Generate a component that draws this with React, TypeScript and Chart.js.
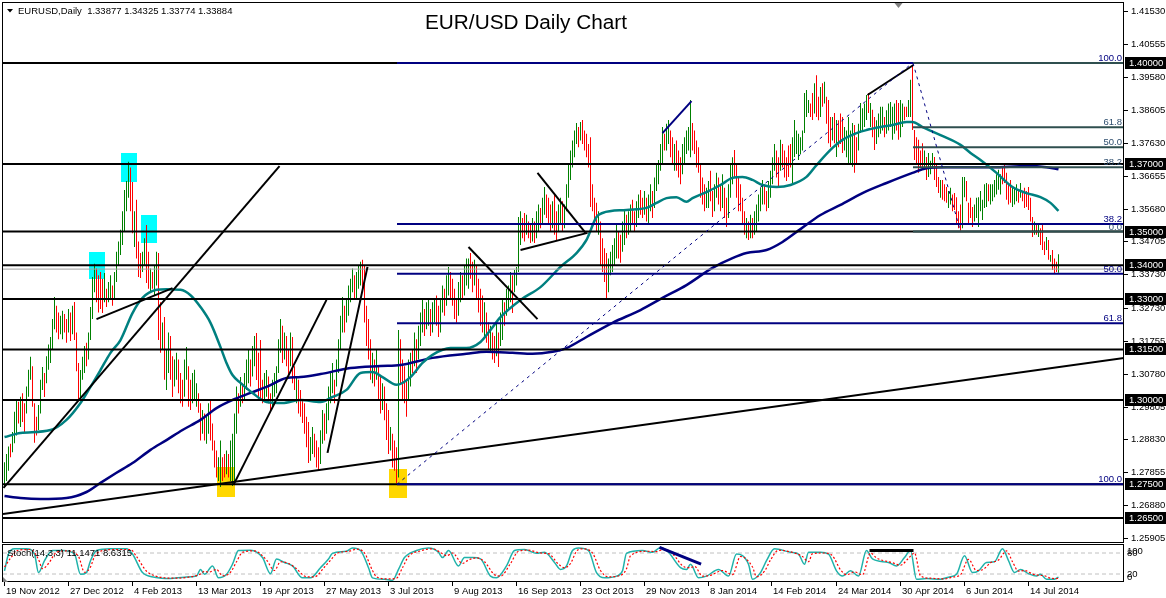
import React, { useEffect, useRef } from "react";
import { Chart, registerables } from "chart.js";

Chart.register(...registerables);

// ---------- DATA (prices in pips, 1 pip = 0.0001) ----------
const BAR_HIGH = [
  12815,12840,12862,12870,12905,12965,13000,12995,
  13010,13020,12990,13040,13090,13128,13100,12990,
  12950,12985,13060,13098,13080,13130,13165,13187,
  13240,13306,13280,13260,13250,13265,13255,13240,
  13270,13260,13280,13291,13200,13110,13089,13128,
  13160,13170,13200,13276,13365,13404,13390,13370,
  13380,13360,13377,13330,13350,13370,13340,13380,
  13440,13470,13505,13560,13623,13650,13707,13690,
  13647,13560,13594,13470,13436,13440,13480,13519,
  13440,13390,13380,13400,13440,13436,13290,13230,
  13246,13150,13200,13190,13130,13120,13140,13120,
  13080,13060,13120,13157,13100,13060,13080,13090,
  13050,13020,12990,12970,12960,12950,12990,13000,
  12930,12880,12850,12830,12880,12830,12840,12850,
  12840,12880,12900,12960,13040,13020,13068,13050,
  13080,13120,13150,13120,13160,13190,13199,13140,
  13178,13060,13080,13089,13070,13020,13060,13080,
  13100,13180,13240,13220,13200,13190,13150,13200,
  13187,13100,13068,13060,13030,13000,12990,12950,
  12935,12890,12920,12900,12880,12860,12910,12970,
  12960,12990,13040,13080,13110,13060,13120,13180,
  13250,13306,13280,13300,13340,13360,13390,13370,
  13380,13400,13410,13416,13400,13280,13240,13180,
  13140,13120,13148,13100,13070,13050,13040,12990,
  12970,12920,12900,12880,12860,13208,13180,13120,
  13100,13060,13120,13140,13150,13200,13180,13220,
  13260,13297,13270,13290,13297,13270,13290,13300,
  13310,13280,13300,13340,13330,13370,13395,13380,
  13360,13330,13300,13350,13380,13370,13400,13420,
  13420,13436,13410,13416,13400,13360,13330,13310,
  13290,13260,13230,13220,13200,13190,13230,13200,
  13260,13297,13290,13330,13340,13380,13370,13386,
  13395,13543,13560,13540,13555,13550,13530,13520,
  13540,13530,13560,13580,13570,13600,13632,13610,
  13600,13580,13590,13614,13560,13580,13600,13590,
  13580,13640,13700,13740,13770,13800,13822,13810,
  13825,13831,13800,13790,13760,13780,13640,13600,
  13585,13560,13530,13480,13450,13436,13420,13440,
  13460,13480,13520,13500,13490,13530,13564,13550,
  13560,13580,13594,13560,13590,13610,13623,13600,
  13620,13600,13610,13640,13620,13660,13700,13712,
  13760,13810,13790,13820,13831,13800,13780,13760,
  13770,13740,13720,13760,13780,13800,13810,13890,
  13822,13800,13770,13750,13700,13660,13640,13630,
  13650,13680,13620,13640,13674,13660,13640,13670,
  13630,13600,13640,13700,13720,13742,13700,13660,
  13640,13600,13560,13540,13530,13550,13540,13560,
  13580,13610,13630,13653,13640,13620,13650,13680,
  13720,13760,13740,13720,13772,13760,13740,13720,
  13755,13760,13780,13831,13800,13790,13780,13800,
  13911,13920,13890,13880,13911,13940,13964,13900,
  13929,13940,13944,13900,13890,13840,13840,13852,
  13831,13830,13850,13840,13810,13800,13840,13800,
  13822,13816,13780,13820,13881,13866,13880,13905,
  13911,13881,13861,13840,13830,13850,13870,13870,
  13840,13860,13880,13884,13870,13880,13890,13881,
  13890,13880,13870,13870,13890,13950,13994,13801,
  13780,13772,13740,13762,13740,13721,13733,13710,
  13733,13721,13703,13662,13653,13653,13640,13632,
  13620,13630,13610,13614,13602,13560,13580,13662,
  13662,13650,13585,13600,13573,13580,13600,13602,
  13620,13594,13640,13644,13640,13640,13640,13653,
  13670,13683,13670,13690,13703,13674,13640,13653,
  13632,13630,13640,13620,13644,13620,13630,13620,
  13632,13600,13543,13530,13520,13525,13510,13525,
  13470,13484,13475,13430,13445,13420,13410,13432.5,
];

const BAR_LOW = [
  12742,12760,12790,12830,12845,12872,12895,12930,
  12920,12935,12905,12960,13010,13060,12980,12873,
  12895,12911,12960,13030,13009,13050,13090,13110,
  13150,13210,13200,13180,13195,13180,13200,13170,
  13200,13175,13195,13178,13085,13000,13009,13060,
  13080,13100,13120,13178,13240,13320,13290,13260,
  13270,13258,13290,13276,13290,13300,13280,13300,
  13350,13400,13430,13460,13500,13560,13600,13560,
  13495,13454,13420,13365,13362,13380,13400,13347,
  13330,13320,13330,13310,13340,13178,13140,13150,
  13060,13030,13080,13060,13009,13040,13060,13020,
  12990,12980,13010,13060,12980,12970,12990,13000,
  12980,12962,12880,12900,12880,12870,12900,12880,
  12850,12800,12770,12760,12742,12760,12770,12780,
  12770,12760,12745,12760,12900,12960,12980,12990,
  13000,13030,13050,13040,13070,13100,13059,13000,
  13000,12990,13000,13010,12990,12970,12980,13010,
  13020,13080,13140,13110,13120,13100,13070,13100,
  13050,13030,12990,12960,12950,12932,12900,12860,
  12813,12820,12840,12830,12800,12792,12810,12870,
  12880,12900,12940,12990,13020,12990,13040,13080,
  13150,13200,13200,13230,13250,13290,13320,13300,
  13300,13330,13340,13330,13230,13160,13120,13060,
  13050,13040,13060,13000,12960,12970,12940,12881,
  12840,12850,12800,12790,12754,12770,13050,13000,
  12990,12950,13000,13040,13080,13100,13080,13120,
  13160,13200,13190,13210,13220,13190,13200,13230,
  13220,13187,13200,13260,13250,13280,13310,13300,
  13280,13240,13229,13250,13290,13300,13310,13340,
  13330,13360,13320,13340,13300,13260,13220,13200,
  13190,13170,13150,13140,13120,13110,13130,13098,
  13160,13178,13220,13250,13270,13290,13258,13320,
  13340,13380,13460,13480,13470,13490,13480,13466,
  13470,13466,13480,13500,13510,13520,13550,13540,
  13520,13500,13510,13490,13475,13500,13520,13500,
  13510,13560,13600,13653,13690,13720,13760,13750,
  13770,13760,13740,13720,13690,13573,13560,13520,
  13500,13490,13400,13380,13350,13297,13320,13370,
  13380,13400,13420,13420,13407,13440,13460,13480,
  13490,13500,13520,13500,13513,13540,13550,13540,
  13550,13530,13525,13560,13540,13570,13620,13640,
  13680,13700,13740,13740,13760,13720,13700,13680,
  13680,13660,13640,13670,13700,13730,13740,13720,
  13740,13730,13690,13674,13600,13580,13560,13570,
  13570,13590,13543,13560,13600,13580,13560,13570,
  13540,13513,13540,13600,13640,13660,13600,13560,
  13560,13520,13490,13480,13475,13480,13480,13490,
  13500,13530,13560,13580,13580,13560,13570,13600,
  13640,13680,13660,13632,13680,13690,13660,13650,
  13662,13690,13644,13721,13730,13712,13730,13740,
  13792,13840,13852,13840,13831,13850,13840,13830,
  13840,13870,13880,13820,13762,13750,13770,13762,
  13721,13750,13760,13733,13740,13720,13703,13700,
  13692,13674,13700,13740,13792,13800,13810,13831,
  13852,13810,13780,13742,13760,13780,13790,13800,
  13780,13790,13800,13810,13772,13790,13800,13772,
  13780,13810,13830,13840,13840,13840,13801,13712,
  13700,13674,13690,13683,13690,13653,13662,13670,
  13691,13653,13632,13614,13600,13594,13590,13585,
  13570,13580,13560,13564,13525,13510,13503,13510,
  13602,13590,13525,13540,13513,13530,13540,13513,
  13560,13534,13570,13573,13590,13580,13590,13602,
  13610,13624,13610,13640,13644,13594,13580,13585,
  13573,13580,13590,13585,13600,13590,13570,13573,
  13564,13530,13484,13490,13490,13484,13460,13445,
  13430,13445,13416,13410,13386,13377,13380,13377.4,
];

// u = bullish bar, d = bearish bar
const BAR_DIRECTION = [
  "uuuduuud","udduuudd","duuuduuu","uudduudd","ududdduu","uduuuudd","dduduudu","uuuuuuud",
  "duddduud","duduuddu","duudduud","dduudduu","udduduud","ddduuddu","duuuudud","uuuduudd",
  "dduudduu","uuududdu","dduddddd","duuddduu","duuuuduu","uuduuuud","uuuddddd","ududdudd",
  "dudddudd","dduududu","uuduuduu","dduuduud","ddduuduu","uddudddd","udduddud","uuduuudu",
  "uuuddudd","uduuduud","ddudduud","uuuuuuud","uddddddd","dudddduu","uuudduud","uudduudd",
  "uduuduuu","uuduuddu","ddduuuuu","dddddddu","udduuddu","dduuuddd","dddududu","uuuudduu",
  "uudduddd","dduuuuuu","uuuddudd","ududddud","uddduuuu","udduuuuu","dudduuuu","duuuuudd",
  "uudduudd","dddduduu","uddduddd","uudddddu","udddduuu","uuuuduuu","uuuddddd","uuududdd",
  "dddududd","dududddu",
].join("");

// moving averages: [bar index, pips]
const MA_TEAL = [
  [0,12890],[8,12902],[23,12911],[31,12941],[38,12991],[43,13039],[48,13089],[53,13140],[58,13178],
  [64,13258],[69,13303],[76,13327],[81,13329],[88,13327],[93,13311],[98,13276],[103,13229],[108,13157],
  [111,13110],[114,13074],[118,13051],[124,13021],[131,12994],[139,12991],[148,13000],[158,12994],
  [164,13009],[171,13030],[178,13080],[184,13083],[189,13068],[196,13045],[203,13068],[209,13110],
  [214,13134],[223,13154],[231,13154],[238,13172],[243,13208],[248,13246],[258,13297],[268,13335],
  [278,13395],[286,13436],[291,13475],[296,13543],[299,13555],[311,13564],[321,13570],[326,13585],
  [331,13599],[336,13602],[341,13588],[344,13599],[351,13617],[358,13638],[364,13659],[369,13662],
  [374,13653],[379,13638],[386,13632],[393,13638],[401,13662],[406,13697],[414,13748],[419,13772],
  [426,13792],[431,13801],[438,13810],[444,13816],[451,13825],[454,13825],[459,13810],[468,13786],
  [478,13757],[483,13733],[488,13712],[496,13674],[504,13632],[511,13614],[518,13602],[523,13585],
  [527,13561],
];
const MA_NAVY = [
  [0,12715],[8,12709],[18,12706],[31,12709],[41,12727],[48,12754],[56,12784],[64,12813],[73,12852],
  [81,12881],[89,12911],[98,12941],[106,12976],[114,13000],[123,13021],[131,13039],[141,13065],
  [148,13068],[158,13077],[173,13095],[188,13101],[198,13104],[214,13125],[231,13137],[241,13143],
  [254,13140],[264,13137],[274,13143],[281,13154],[291,13187],[304,13229],[318,13267],[329,13303],
  [341,13341],[354,13392],[364,13421],[371,13436],[381,13445],[389,13469],[398,13507],[408,13549],
  [418,13579],[429,13614],[441,13644],[454,13674],[461,13688],[471,13691],[481,13691],[494,13691],
  [511,13694],[521,13691],[527,13685],
];

// stochastic (14,3,3): [bar index, value]
const STOCH_MAIN = [
  [0,29],[2,77],[5,92],[11,92],[15,77],[17,24],[20,58],[24,87],[29,87],[35,77],[38,19],[41,24],[43,58],
  [46,87],[53,92],[61,92],[64,77],[69,24],[75,11],[83,7],[90,11],[96,14],[98,33],[100,19],[104,43],
  [107,9],[111,19],[114,48],[117,87],[123,88],[129,67],[133,21],[136,63],[140,53],[144,43],[149,9],
  [153,9],[158,38],[162,63],[164,79],[171,85],[174,94],[178,87],[182,38],[184,9],[190,5],[194,2],
  [197,33],[200,67],[206,87],[212,94],[217,82],[219,67],[222,87],[227,43],[230,67],[234,67],[238,63],
  [243,14],[246,9],[251,43],[255,87],[260,90],[266,79],[270,82],[275,53],[278,33],[281,43],[284,87],
  [287,94],[292,87],[296,24],[300,9],[306,14],[309,29],[311,79],[319,87],[324,82],[328,96],[332,82],
  [338,38],[341,33],[343,48],[347,9],[351,14],[357,33],[362,14],[366,77],[372,48],[374,5],[378,24],
  [381,58],[385,92],[393,82],[397,77],[400,48],[402,82],[408,82],[412,77],[416,29],[419,14],[423,29],
  [427,14],[431,87],[434,63],[442,53],[446,43],[450,67],[453,87],[456,5],[461,7],[468,5],[472,11],
  [476,19],[480,72],[484,24],[487,29],[491,53],[495,55],[499,92],[502,58],[505,24],[508,33],[512,21],
  [516,14],[518,19],[521,5],[525,5],[527,11.1471],
];
const STOCH_SIGNAL = [
  [0,40],[3,65],[7,88],[13,90],[17,62],[19,35],[22,50],[26,82],[31,86],[37,70],[40,25],[43,40],[45,70],
  [48,85],[55,90],[63,90],[66,70],[71,28],[77,12],[85,8],[92,11],[98,20],[100,28],[102,25],[106,33],
  [109,15],[113,25],[116,55],[119,82],[125,86],[131,60],[135,30],[138,55],[142,50],[146,35],[151,12],
  [155,12],[160,40],[164,66],[166,78],[173,86],[176,91],[180,80],[184,30],[186,12],[192,6],[196,8],
  [199,38],[202,70],[208,86],[214,92],[219,78],[221,72],[224,80],[229,50],[232,60],[236,66],[240,55],
  [245,18],[248,14],[253,50],[257,85],[262,88],[268,80],[272,78],[277,48],[280,38],[283,50],[286,85],
  [289,92],[294,80],[298,30],[302,12],[308,16],[311,35],[313,72],[321,85],[326,84],[330,92],[334,78],
  [340,40],[343,38],[345,42],[349,14],[353,16],[359,30],[364,18],[368,70],[374,40],[376,12],[380,28],
  [383,60],[387,88],[395,80],[399,70],[402,55],[404,78],[410,80],[414,72],[418,32],[421,18],[425,26],
  [429,18],[433,80],[436,66],[444,52],[448,45],[452,65],[455,80],[458,15],[463,8],[470,6],[474,11],
  [478,18],[482,62],[486,30],[489,32],[493,52],[497,60],[501,86],[504,55],[507,28],[510,30],[514,20],
  [518,16],[520,15],[523,8],[526,7],[527,8.6315],
];
const STOCH_LEVELS = [80, 20];

// horizontal support / resistance levels (pips)
const H_LEVELS = [14000, 13700, 13500, 13400, 13300, 13150, 13000, 12750, 12650];
const BID_LEVEL = 13388.4;

// trend lines: [bar, pips] -> [bar, pips]
const TREND_BLACK = [
  [[-0.75,12662],[559.75,13125]],
  [[-0.5,12739],[137.5,13694]],
  [[46,13240],[84,13332]],
  [[114.5,12748],[161,13297]],
  [[161.5,12843],[181.5,13395]],
  [[232,13454],[266.5,13240]],
  [[258,13445],[291.5,13496]],
  [[266.5,13674],[290.5,13496]],
  [[431.5,13905],[454.5,13994]],
];
const TREND_NAVY = [[[329,13792],[343.5,13887]]];
const TREND_DASHED = [
  [[196.25,12750],[454,14000]],
  [[454.25,14000],[478,13500]],
];
const STOCH_LINES = [
  { pts: [[327.5,96],[348.3,48]], color: "#000080" },
  { pts: [[432.5,87],[454.5,87]], color: "#000000" },
];

// fibonacci retracements
const FIB1_START = 196.25;
const FIB1_LEVELS = [14000, 13522.5, 13375, 13227.5, 12750];
const FIB1_LABELS = ["", "38.2", "50.0", "61.8", "100.0"];
const FIB2_START = 454.25;
const FIB2_LEVELS = [14000, 13809, 13750, 13691, 13500];
const FIB2_LABELS = ["100.0", "61.8", "50.0", "38.2", "0.0"];

// highlight rectangles: [fromBar, toBar, topPips, bottomPips]
const BOXES_CYAN = [
  [42.25, 50.25, 13439, 13359],
  [58.25, 66.25, 13733, 13647],
  [68.25, 76.25, 13549, 13466],
];
const BOXES_GOLD = [
  [106.25, 115.25, 12801, 12712],
  [192.25, 201.25, 12795, 12709],
];

const PRICE_TICKS = ["1.41530","1.40555","1.39580","1.38605","1.37630","1.36655","1.35680","1.34705",
  "1.33730","1.32730","1.31755","1.30780","1.29805","1.28830","1.27855","1.26880","1.25905"];
const DATE_LABELS = ["19 Nov 2012","27 Dec 2012","4 Feb 2013","13 Mar 2013","19 Apr 2013","27 May 2013",
  "3 Jul 2013","9 Aug 2013","16 Sep 2013","23 Oct 2013","29 Nov 2013","8 Jan 2014","14 Feb 2014",
  "24 Mar 2014","30 Apr 2014","6 Jun 2014","14 Jul 2014"];
const DATE_BARS = [0,32,64,96,128,160,192,224,256,288,320,352,384,416,448,480,512];

const TITLE = "EUR/USD Daily Chart";
const HEADER = "EURUSD,Daily  1.33877 1.34325 1.33774 1.33884";
const STOCH_HEADER = "Stoch(14,3,3) 11.1471 8.6315";
const SHIFT_BAR = 447;

// ---------- layout ----------
const X_MIN = -0.75;
const X_MAX = 559.75;
const Y_MAX = 1.4178042;
const Y_MIN = 1.2459941;
const S_MAX = 1651.43;
const S_MIN = -2.857;
const FONT = '"Liberation Sans", Arial, sans-serif';

const px = (p: number) => p / 10000;

function lineDs(pts: number[][], color: string, width: number, order: number, extra: any = {}, price = true) {
  return {
    type: "line",
    data: pts.map(([x, y]) => ({ x, y: price ? px(y) : y })),
    borderColor: color,
    borderWidth: width,
    pointRadius: 0,
    fill: false,
    tension: 0,
    order,
    yAxisID: price ? "y" : "ys",
    ...extra,
  };
}

export default function App() {
  const ref = useRef<HTMLCanvasElement | null>(null);

  useEffect(() => {
    const canvas = ref.current;
    if (!canvas) return;

    const datasets: any[] = [];

    datasets.push({
      type: "bar",
      data: BAR_HIGH.map((h, i) => ({ x: i, y: [px(BAR_LOW[i]), px(h)] })),
      backgroundColor: BAR_HIGH.map((_, i) => (BAR_DIRECTION[i] === "u" ? "#008000" : "#ff0000")),
      borderWidth: 0,
      barThickness: 1,
      inflateAmount: 0,
      order: 20,
      yAxisID: "y",
    });

    datasets.push(lineDs(MA_TEAL, "#008080", 2.5, 9, { cubicInterpolationMode: "monotone" }));
    datasets.push(lineDs(MA_NAVY, "#000080", 2.5, 9, { cubicInterpolationMode: "monotone" }));

    datasets.push(lineDs([[X_MIN, BID_LEVEL], [X_MAX, BID_LEVEL]], "#a0a0a0", 1, 8));
    H_LEVELS.forEach((p) => datasets.push(lineDs([[X_MIN, p], [X_MAX, p]], "#000000", 2, 6)));

    TREND_BLACK.forEach((seg) => datasets.push(lineDs(seg, "#000000", 2, 5)));
    TREND_NAVY.forEach((seg) => datasets.push(lineDs(seg, "#000080", 2, 5)));

    FIB1_LEVELS.forEach((p) => datasets.push(lineDs([[FIB1_START, p], [X_MAX, p]], "#000080", 2, 4)));
    FIB2_LEVELS.forEach((p) => datasets.push(lineDs([[FIB2_START, p], [X_MAX, p]], "#2f4f4f", 2, 3)));

    TREND_DASHED.forEach((seg) => datasets.push(lineDs(seg, "#000080", 1, 2, { borderDash: [3, 4] })));

    // stochastic panel
    STOCH_LEVELS.forEach((v) =>
      datasets.push(lineDs([[X_MIN, v], [X_MAX, v]], "#c0c0c0", 1, 12, { borderDash: [4, 3] }, false))
    );
    datasets.push(lineDs(STOCH_MAIN, "#20b2aa", 1.5, 11, { cubicInterpolationMode: "monotone" }, false));
    datasets.push(lineDs(STOCH_SIGNAL, "#ff0000", 1.2, 10, { cubicInterpolationMode: "monotone", borderDash: [2, 2] }, false));
    STOCH_LINES.forEach((l) => datasets.push(lineDs(l.pts, l.color, 3, 1, {}, false)));

    const overlay = {
      id: "overlay",
      beforeDatasetsDraw(chart: any) {
        const { ctx } = chart;
        const xs = chart.scales.x;
        const ys = chart.scales.y;
        ctx.save();
        const drawBoxes = (list: number[][], color: string) => {
          ctx.fillStyle = color;
          list.forEach(([b0, b1, top, bot]) => {
            const x0 = xs.getPixelForValue(b0);
            const x1 = xs.getPixelForValue(b1);
            const y0 = ys.getPixelForValue(px(top));
            const y1 = ys.getPixelForValue(px(bot));
            ctx.fillRect(Math.round(x0), Math.round(y0), Math.round(x1 - x0), Math.round(y1 - y0));
          });
        };
        drawBoxes(BOXES_CYAN, "#00ffff");
        drawBoxes(BOXES_GOLD, "#ffd700");
        ctx.restore();
      },
      afterDraw(chart: any) {
        const { ctx } = chart;
        const xs = chart.scales.x;
        const ys = chart.scales.y;
        const ss = chart.scales.ys;
        ctx.save();

        // panel frames
        ctx.strokeStyle = "#000";
        ctx.lineWidth = 1;
        ctx.strokeRect(2.5, 2.5, 1121, 540);
        ctx.strokeRect(2.5, 544.5, 1121, 37);

        // price axis ticks + labels
        ctx.font = `9.5px ${FONT}`;
        ctx.textBaseline = "middle";
        ctx.textAlign = "left";
        ctx.fillStyle = "#000";
        PRICE_TICKS.forEach((t) => {
          const y = Math.round(ys.getPixelForValue(parseFloat(t))) + 0.5;
          ctx.beginPath();
          ctx.moveTo(1124, y);
          ctx.lineTo(1128, y);
          ctx.stroke();
          ctx.fillText(t, 1131, y);
        });

        // level price boxes
        H_LEVELS.forEach((p) => {
          const y = Math.round(ys.getPixelForValue(px(p)));
          ctx.fillStyle = "#000";
          ctx.fillRect(1125, y - 6, 41, 12);
          ctx.fillStyle = "#fff";
          ctx.fillText(px(p).toFixed(5), 1129, y + 0.5);
        });

        // fib labels
        ctx.textAlign = "right";
        ctx.textBaseline = "alphabetic";
        FIB1_LEVELS.forEach((p, i) => {
          if (!FIB1_LABELS[i]) return;
          const y = ys.getPixelForValue(px(p));
          ctx.fillStyle = "#000080";
          ctx.fillText(FIB1_LABELS[i], 1122, y - 2);
        });
        FIB2_LEVELS.forEach((p, i) => {
          const y = ys.getPixelForValue(px(p));
          ctx.fillStyle = i === 0 ? "#000080" : "#2f4f6f";
          ctx.fillText(FIB2_LABELS[i], 1122, y - 2);
        });

        // stochastic axis labels
        ctx.textAlign = "left";
        ctx.textBaseline = "middle";
        ctx.fillStyle = "#000";
        ctx.fillText("100", 1127, ss.getPixelForValue(100) + 5);
        ctx.fillText("80", 1127, ss.getPixelForValue(80));
        ctx.fillText("20", 1127, ss.getPixelForValue(20));
        ctx.fillText("0", 1127, ss.getPixelForValue(0) - 4);

        // date axis
        DATE_BARS.forEach((b, i) => {
          const x = Math.round(xs.getPixelForValue(b)) - 0.5;
          ctx.beginPath();
          ctx.moveTo(x, 582);
          ctx.lineTo(x, 586);
          ctx.stroke();
          ctx.fillText(DATE_LABELS[i], x + 1.5, 591);
        });

        // header line
        ctx.beginPath();
        ctx.moveTo(7, 9);
        ctx.lineTo(13, 9);
        ctx.lineTo(10, 12.5);
        ctx.closePath();
        ctx.fill();
        ctx.fillText(HEADER, 18, 11);

        // stochastic header
        ctx.fillText(STOCH_HEADER, 7, 553);

        // chart shift marker
        const sx = xs.getPixelForValue(SHIFT_BAR);
        ctx.fillStyle = "#808080";
        ctx.beginPath();
        ctx.moveTo(sx - 4, 3);
        ctx.lineTo(sx + 4, 3);
        ctx.lineTo(sx, 8);
        ctx.closePath();
        ctx.fill();
        ctx.beginPath();
        ctx.moveTo(3, 577);
        ctx.lineTo(3, 582);
        ctx.lineTo(8, 582);
        ctx.closePath();
        ctx.fill();

        // title
        ctx.fillStyle = "#000";
        ctx.font = `20px ${FONT}`;
        ctx.textBaseline = "alphabetic";
        const w = ctx.measureText(TITLE).width;
        ctx.translate(425, 29);
        ctx.scale(202 / w, 1);
        ctx.fillText(TITLE, 0, 0);

        ctx.restore();
      },
    };

    const chart = new Chart(canvas, {
      type: "line",
      data: { datasets },
      options: {
        responsive: false,
        animation: false,
        devicePixelRatio: 1,
        events: [],
        layout: { padding: { left: 3, top: 3, right: 42, bottom: 16 } },
        plugins: {
          legend: { display: false },
          tooltip: { enabled: false },
          title: { display: false },
        },
        scales: {
          x: { type: "linear", min: X_MIN, max: X_MAX, display: false, offset: false },
          y: { type: "linear", min: Y_MIN, max: Y_MAX, display: false },
          ys: { type: "linear", min: S_MIN, max: S_MAX, display: false },
        },
      } as any,
      plugins: [overlay],
    } as any);

    return () => chart.destroy();
  }, []);

  return (
    <div style={{ position: "fixed", left: 0, top: 0, width: 1166, height: 598, background: "#fff" }}>
      <canvas ref={ref} width={1166} height={598} style={{ width: 1166, height: 598, display: "block" }} />
    </div>
  );
}
